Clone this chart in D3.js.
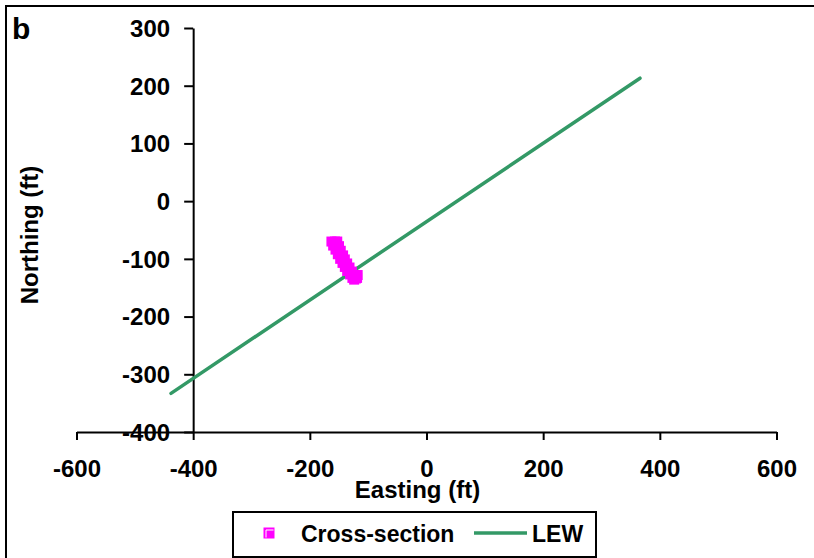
<!DOCTYPE html>
<html>
<head>
<meta charset="utf-8">
<script src="https://cdn.jsdelivr.net/npm/d3@7"></script>
<style>
  html, body { margin: 0; padding: 0; background: #fff; }
  svg { display: block; font-family: "Liberation Sans", Arial, sans-serif; font-weight: bold; }
</style>
</head>
<body>
<svg id="chart" width="814" height="558"></svg>
<script>
// ---- data ----
const xTicks = [-600, -400, -200, 0, 200, 400, 600];
const yTicks = [300, 200, 100, 0, -100, -200, -300, -400];
const crossEasting  = [-163, -157, -153, -160, -150, -156, -147, -152, -143, -148, -140, -144, -136, -140, -132, -136, -128, -131, -124, -127, -121, -119, -124, -118];
const crossNorthing = [-70, -70, -70, -77, -78, -84, -86, -92, -94, -100, -101, -107, -108, -114, -115, -121, -122, -127, -128, -133, -134, -133, -136, -128];
const lewEasting  = [-438, 366];
const lewNorthing = [-333, 213];
const seriesNames = ["Cross-section", "LEW"];

const svg = d3.select("#chart");
const x = d3.scaleLinear().domain([-600, 600]).range([76.5, 776.5]);
const y = d3.scaleLinear().domain([-400, 300]).range([432, 28]);
const FS = 24;
const fmt = d => String(d);

// outer frame (right/bottom edges beyond view)
svg.append("rect").attr("x", 6).attr("y", 6).attr("width", 830).attr("height", 580)
  .attr("fill", "none").attr("stroke", "#000").attr("stroke-width", 2);

svg.append("text").attr("x", 12).attr("y", 39).attr("font-size", 30).text("b");

// x axis at y = -400
const gx = svg.append("g").attr("transform", `translate(0,${y(-400)})`)
  .call(d3.axisBottom(x).tickValues(xTicks).tickSize(8).tickSizeOuter(0).tickFormat(fmt));
gx.select(".domain").attr("stroke-width", 2);
gx.selectAll(".tick line").attr("stroke-width", 2);
gx.selectAll(".tick text").attr("y", 45).attr("dy", 0).attr("font-size", FS)
  .attr("font-family", "Liberation Sans, Arial, sans-serif").attr("font-weight", "bold").attr("fill", "#000");

// y axis at x = -400
const gy = svg.append("g").attr("transform", `translate(${x(-400)},0)`)
  .call(d3.axisLeft(y).tickValues(yTicks).tickSize(9).tickSizeOuter(0).tickFormat(fmt));
gy.select(".domain").attr("stroke-width", 2);
gy.selectAll(".tick line").attr("stroke-width", 2);
gy.selectAll(".tick text").attr("x", -23).attr("dy", "0.35em").attr("font-size", FS)
  .attr("font-family", "Liberation Sans, Arial, sans-serif").attr("font-weight", "bold").attr("fill", "#000");

// axis titles
svg.append("text").attr("x", 417.5).attr("y", 498).attr("text-anchor", "middle")
  .attr("font-size", FS).text("Easting (ft)");
svg.append("text").attr("transform", "translate(38,235) rotate(-90)").attr("text-anchor", "middle")
  .attr("font-size", FS).text("Northing (ft)");

// LEW line
const lewData = lewEasting.map((e, i) => [e, lewNorthing[i]]);
svg.append("path").datum(lewData)
  .attr("d", d3.line().x(d => x(d[0])).y(d => y(d[1])))
  .attr("fill", "none").attr("stroke", "#339966").attr("stroke-width", 3.5).attr("stroke-linecap", "round");

// marker drawing
function marker(g, cx, cy, M, hl) {
  g.append("rect").attr("x", cx - M / 2).attr("y", cy - M / 2).attr("width", M).attr("height", M)
    .attr("fill", "#FF00FF");
  if (hl) {
    const o = M / 2 - 2.5;
    g.append("path").attr("d", `M${cx - o},${cy + M / 2 - 1}V${cy - o}H${cx + M / 2 - 1}`)
      .attr("fill", "none").attr("stroke", "#fff").attr("stroke-width", 1);
  }
}
const gm = svg.append("g");
const pts = crossEasting.map((e, i) => [e, crossNorthing[i]]);
pts.forEach((p, i) => marker(gm, x(p[0]), y(p[1]), 10, false));

// legend
svg.append("rect").attr("x", 233).attr("y", 512).attr("width", 363).attr("height", 45)
  .attr("fill", "#fff").attr("stroke", "#000").attr("stroke-width", 2);
const lg = svg.append("g");
marker(lg, 269, 533, 11, true);
svg.append("text").attr("x", 301).attr("y", 541.5).attr("font-size", 23).text(seriesNames[0]);
svg.append("line").attr("x1", 474).attr("x2", 527).attr("y1", 533).attr("y2", 533)
  .attr("stroke", "#339966").attr("stroke-width", 3.5);
svg.append("text").attr("x", 532).attr("y", 541.5).attr("font-size", 23).text(seriesNames[1]);
</script>
</body>
</html>
